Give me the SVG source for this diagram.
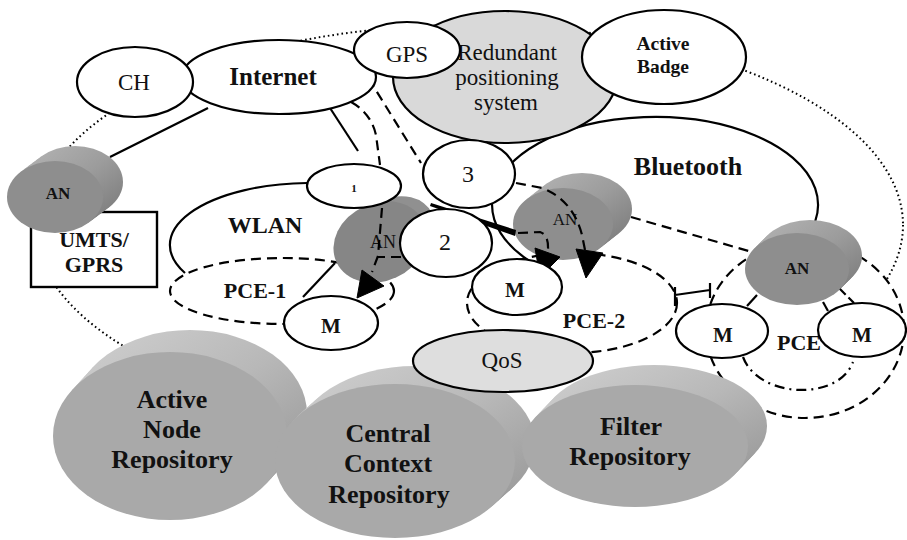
<svg xmlns="http://www.w3.org/2000/svg" width="907" height="540" viewBox="0 0 907 540">
  <defs>
    <linearGradient id="rimRepo" x1="0" y1="0" x2="1" y2="1">
      <stop offset="0" stop-color="#d0d0d0"/>
      <stop offset="0.5" stop-color="#b8b8b8"/>
      <stop offset="1" stop-color="#939393"/>
    </linearGradient>
    <linearGradient id="rimAN" x1="0" y1="0" x2="1" y2="1">
      <stop offset="0" stop-color="#b4b4b4"/>
      <stop offset="0.5" stop-color="#9c9c9c"/>
      <stop offset="1" stop-color="#787878"/>
    </linearGradient>
  </defs>
  <style>
    .ol{fill:#fff;stroke:#000;stroke-width:2.2}
    .grey{fill:#d9d9d9;stroke:#000;stroke-width:2.2}
    .line{fill:none;stroke:#000;stroke-width:2.2}
    .dash{fill:none;stroke:#000;stroke-width:2.2;stroke-dasharray:10 6}
    .dashw{fill:#fff;stroke:#000;stroke-width:2.2;stroke-dasharray:10 6}
    .dashdot{fill:none;stroke:#000;stroke-width:2.2;stroke-dasharray:10 5 2 5}
    .dot{fill:none;stroke:#000;stroke-width:2;stroke-dasharray:1.6 3}
    .head{fill:#000;stroke:#000;stroke-width:1;stroke-linejoin:round}
    .rimR{fill:url(#rimRepo)}
    .faceR{fill:#a9a9a9}
    .rimA{fill:url(#rimAN)}
    .faceA{fill:#8e8e8e}
    .t{font-family:"Liberation Serif","Times New Roman",serif;fill:#111;text-anchor:middle}
    .b{font-weight:bold}
  </style>

  <!-- overall domain -->
  <g id="domain">
    <ellipse cx="469" cy="225" rx="434" ry="200" class="dot"/>
  </g>

  <!-- UMTS/GPRS access network -->
  <g id="umts">
    <rect x="31" y="212" width="126" height="75" fill="#fff" stroke="#000" stroke-width="2.4"/>
    <text class="t b" x="94" y="247" font-size="22">UMTS/</text>
    <text class="t b" x="94" y="272" font-size="22">GPRS</text>
  </g>

  <g id="an-umts">
    <ellipse class="rimA" cx="59" cy="194" rx="48" ry="36"/>
    <ellipse class="rimA" cx="63" cy="191" rx="48" ry="36"/>
    <ellipse class="rimA" cx="67" cy="188" rx="48" ry="36"/>
    <ellipse class="rimA" cx="71" cy="185" rx="48" ry="36"/>
    <ellipse class="rimA" cx="75" cy="182" rx="48" ry="36"/>
    <ellipse class="faceA" cx="55" cy="197" rx="48" ry="36"/>
    <text class="t b" x="58" y="199" font-size="17">AN</text>
  </g>

  <g id="wlan">
    <path class="line" d="M307,183 A140,62 0 0 0 185,273"/>
    <text class="t b" x="265" y="233" font-size="24">WLAN</text>
  </g>

  <g id="bluetooth">
    <path class="line" d="M528,260 A163,88 0 1 1 795,250"/>
    <text class="t b" x="688" y="175" font-size="26">Bluetooth</text>
  </g>

  <g id="pce-1">
    <ellipse class="dash" cx="282" cy="291" rx="112" ry="33"/>
    <text class="t b" x="255" y="298" font-size="22">PCE-1</text>
  </g>

  <g id="pce-2">
    <ellipse class="dash" cx="572" cy="303" rx="105" ry="50"/>
    <text class="t b" x="594" y="328" font-size="22">PCE-2</text>
  </g>

  <g id="pce-3">
    <ellipse class="dashw" cx="805" cy="330" rx="99" ry="88"/>
    <path class="dashdot" d="M743,357 C758,398 838,402 853,362"/>
    <text class="t b" x="777" y="350" font-size="22" style="text-anchor:start">PCE</text>
  </g>

  <!-- repositories -->
  <g id="repo-active-node">
    <ellipse class="rimR" cx="174" cy="431.6" rx="117" ry="84"/>
    <ellipse class="rimR" cx="178" cy="427.2" rx="117" ry="84"/>
    <ellipse class="rimR" cx="182" cy="422.8" rx="117" ry="84"/>
    <ellipse class="rimR" cx="186" cy="418.4" rx="117" ry="84"/>
    <ellipse class="rimR" cx="190" cy="414" rx="117" ry="84"/>
    <ellipse class="faceR" cx="170" cy="436" rx="117" ry="84"/>
    <text class="t b" x="172" y="408" font-size="26">Active</text>
    <text class="t b" x="172" y="438" font-size="26">Node</text>
    <text class="t b" x="172" y="468" font-size="26">Repository</text>
  </g>

  <g id="repo-central-context">
    <ellipse class="rimR" cx="399" cy="457.4" rx="120" ry="77"/>
    <ellipse class="rimR" cx="403" cy="453.8" rx="120" ry="77"/>
    <ellipse class="rimR" cx="407" cy="450.2" rx="120" ry="77"/>
    <ellipse class="rimR" cx="411" cy="446.6" rx="120" ry="77"/>
    <ellipse class="rimR" cx="415" cy="443" rx="120" ry="77"/>
    <ellipse class="faceR" cx="395" cy="461" rx="120" ry="77"/>
    <text class="t b" x="388" y="442" font-size="26">Central</text>
    <text class="t b" x="388" y="472" font-size="26">Context</text>
    <text class="t b" x="389" y="503" font-size="26">Repository</text>
  </g>

  <g id="repo-filter">
    <ellipse class="rimR" cx="638.8" cy="442" rx="113" ry="61"/>
    <ellipse class="rimR" cx="642.6" cy="438" rx="113" ry="61"/>
    <ellipse class="rimR" cx="646.4" cy="434" rx="113" ry="61"/>
    <ellipse class="rimR" cx="650.2" cy="430" rx="113" ry="61"/>
    <ellipse class="rimR" cx="654" cy="426" rx="113" ry="61"/>
    <ellipse class="faceR" cx="635" cy="446" rx="113" ry="61"/>
    <text class="t b" x="631" y="435" font-size="26">Filter</text>
    <text class="t b" x="630" y="465" font-size="26">Repository</text>
  </g>

  <g id="qos">
    <ellipse class="grey" cx="503" cy="361" rx="90" ry="31" style="fill:#dedede"/>
    <text class="t" x="502" y="368" font-size="23">QoS</text>
  </g>

  <!-- access nodes -->
  <g id="an-wlan">
    <ellipse cx="394" cy="231" rx="42" ry="33" transform="rotate(-25 394 231)" fill="#909090"/>
    <ellipse cx="380" cy="242" rx="48" ry="39" transform="rotate(-25 380 242)" fill="#868686"/>
    <text class="t" x="383" y="248" font-size="18">AN</text>
  </g>

  <g id="an-bluetooth">
    <ellipse class="rimA" cx="566.8" cy="221" rx="50" ry="36"/>
    <ellipse class="rimA" cx="570.6" cy="218" rx="50" ry="36"/>
    <ellipse class="rimA" cx="574.4" cy="215" rx="50" ry="36"/>
    <ellipse class="rimA" cx="578.2" cy="212" rx="50" ry="36"/>
    <ellipse class="rimA" cx="582" cy="209" rx="50" ry="36"/>
    <ellipse class="faceA" cx="563" cy="224" rx="50" ry="36"/>
    <text class="t" x="565" y="225" font-size="17">AN</text>
  </g>

  <g id="an-pce">
    <ellipse class="rimA" cx="799.6" cy="266.4" rx="52" ry="36"/>
    <ellipse class="rimA" cx="802.2" cy="263.8" rx="52" ry="36"/>
    <ellipse class="rimA" cx="804.8" cy="261.2" rx="52" ry="36"/>
    <ellipse class="rimA" cx="807.4" cy="258.6" rx="52" ry="36"/>
    <ellipse class="rimA" cx="810" cy="256" rx="52" ry="36"/>
    <ellipse class="faceA" cx="797" cy="269" rx="52" ry="36"/>
    <text class="t b" x="797" y="274" font-size="17">AN</text>
  </g>

  <!-- connectors -->
  <g id="connectors">
    <line class="line" x1="208" y1="108" x2="110" y2="157"/>
    <line class="line" x1="330" y1="108" x2="358" y2="151"/>
    <path class="dash" d="M193,70 C260,63 345,60 372,84 L421,163"/>
    <path class="dash" d="M196,74 L225,89 Q300,95 340,97 Q370,108 376,135 L380,165"/>
    <path class="dash" d="M382,208 L378,256 L372,272"/>
    <path class="dash" d="M401,257 L378,257"/>
    <polygon class="head" points="362,270 384,286 357,298"/>
    <line class="line" x1="335" y1="263" x2="303" y2="297"/>
    <polygon points="431,203 516,230 515,236 430,206" fill="#000"/>
    <path class="dash" d="M518,233 L540,232 Q549,235 548,250"/>
    <polygon class="head" points="535,248 560,257 540,277"/>
    <path class="dash" d="M516,183 L542,188 Q573,200 582,235 L585,250"/>
    <polygon class="head" points="576,249 603,253 586,278"/>
    <line class="dash" x1="631" y1="217" x2="752" y2="252"/>
    <path class="line" d="M675,295 L710,290 M675,287 L675,306 M710,283 L710,298"/>
    <line class="line" x1="757" y1="295" x2="747" y2="306"/>
    <line class="line" x1="823" y1="302" x2="828" y2="311"/>
    <line class="dash" x1="840" y1="289" x2="854" y2="303" style="stroke-dasharray:8 4"/>
  </g>

  <!-- networks and components -->
  <g id="internet">
    <ellipse class="ol" cx="279" cy="77" rx="97" ry="37"/>
    <text class="t b" x="273" y="85" font-size="25">Internet</text>
  </g>

  <g id="ch">
    <ellipse class="ol" cx="135" cy="82" rx="58" ry="35"/>
    <text class="t" x="134" y="90" font-size="23">CH</text>
  </g>

  <g id="redundant-positioning">
    <ellipse class="grey" cx="505" cy="77" rx="112" ry="66"/>
    <text class="t" x="507" y="60" font-size="23">Redundant</text>
    <text class="t" x="507" y="85" font-size="23">positioning</text>
    <text class="t" x="506" y="110" font-size="23">system</text>
  </g>

  <g id="gps">
    <ellipse class="ol" cx="407" cy="50" rx="53" ry="28"/>
    <text class="t" x="407" y="62" font-size="23">GPS</text>
  </g>

  <g id="active-badge">
    <ellipse class="ol" cx="664" cy="57" rx="82" ry="47"/>
    <text class="t b" x="663" y="50" font-size="19.5">Active</text>
    <text class="t b" x="663" y="73" font-size="19.5">Badge</text>
  </g>

  <g id="step-3">
    <ellipse class="ol" cx="469" cy="174" rx="46" ry="34"/>
    <text class="t" x="468" y="182" font-size="24">3</text>
  </g>

  <g id="step-1">
    <ellipse class="ol" cx="354" cy="186" rx="47" ry="22"/>
    <text class="t b" x="354" y="192" font-size="11">1</text>
  </g>

  <g id="step-2">
    <ellipse class="ol" cx="446" cy="243" rx="46" ry="34"/>
    <text class="t" x="445" y="250" font-size="24">2</text>
  </g>

  <g id="m-pce1">
    <ellipse class="ol" cx="331" cy="323" rx="47" ry="27"/>
    <text class="t b" x="331" y="333" font-size="21">M</text>
  </g>

  <g id="m-pce2">
    <ellipse class="ol" cx="517" cy="287" rx="45" ry="28"/>
    <text class="t b" x="515" y="297" font-size="21">M</text>
  </g>

  <g id="m-pce3-a">
    <ellipse class="ol" cx="722" cy="331" rx="46" ry="27"/>
    <text class="t b" x="723" y="342" font-size="21">M</text>
  </g>

  <g id="m-pce3-b">
    <ellipse class="ol" cx="862" cy="330" rx="44" ry="27"/>
    <text class="t b" x="862" y="342" font-size="21">M</text>
  </g>
</svg>
